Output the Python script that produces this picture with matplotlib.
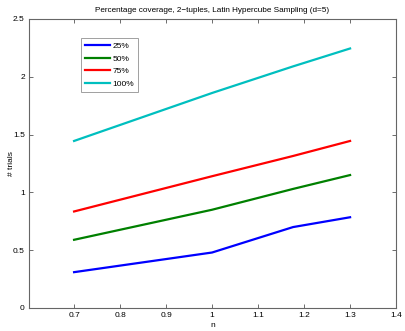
import matplotlib
matplotlib.use("Agg")
import matplotlib.pyplot as plt

n = [0.7, 1.0, 1.176, 1.3]
s25 = [0.31, 0.48, 0.70, 0.785]
s50 = [0.59, 0.85, 1.03, 1.15]
s75 = [0.835, 1.14, 1.315, 1.445]
s100 = [1.445, 1.86, 2.09, 2.245]
labels = ["25%", "50%", "75%", "100%"]
colors = ["#0000ff", "#008000", "#ff0000", "#00bfbf"]
xticks = [0.7, 0.8, 0.9, 1.0, 1.1, 1.2, 1.3, 1.4]
xticklabels = ["0.7", "0.8", "0.9", "1", "1.1", "1.2", "1.3", "1.4"]
yticks = [0, 0.5, 1, 1.5, 2, 2.5]
yticklabels = ["0", "0.5", "1", "1.5", "2", "2.5"]

plt.rcParams['font.family'] = ['Liberation Sans', 'DejaVu Sans']
fig = plt.figure(figsize=(4.05, 3.31), dpi=100)
ax = fig.add_axes([0.0716, 0.0695, 0.9064, 0.8731])
for ys, lab, c in zip([s25, s50, s75, s100], labels, colors):
    ax.plot(n, ys, color=c, lw=1.6, label=lab)
ax.set_xlim(0.602, 1.4)
ax.set_ylim(0, 2.5)
ax.set_xticks(xticks)
ax.set_xticklabels(xticklabels)
ax.set_yticks(yticks)
ax.set_yticklabels(yticklabels)
ax.tick_params(direction='in', length=3, width=0.6, labelsize=6, colors='#555555',
               labelcolor='black', top=True, right=True, pad=3)
for sp in ax.spines.values():
    sp.set_color('#666666')
    sp.set_linewidth(0.8)
ax.set_title("Percentage coverage, 2\u2212tuples, Latin Hypercube Sampling (d=5)", fontsize=5.9, pad=5)
ax.set_xlabel("n", fontsize=6, labelpad=2)
ax.set_ylabel("# trials", fontsize=6)
ax.yaxis.set_label_coords(-0.038, 0.5)
leg = ax.legend(loc='upper left', bbox_to_anchor=(0.1425, 0.933), fontsize=6, frameon=True,
                fancybox=False, edgecolor='#888888', handlelength=3.0, borderpad=0.5,
                labelspacing=0.55, handletextpad=0.25, borderaxespad=0)
leg.get_frame().set_linewidth(0.7)
fig.savefig("out.png", dpi=100)
